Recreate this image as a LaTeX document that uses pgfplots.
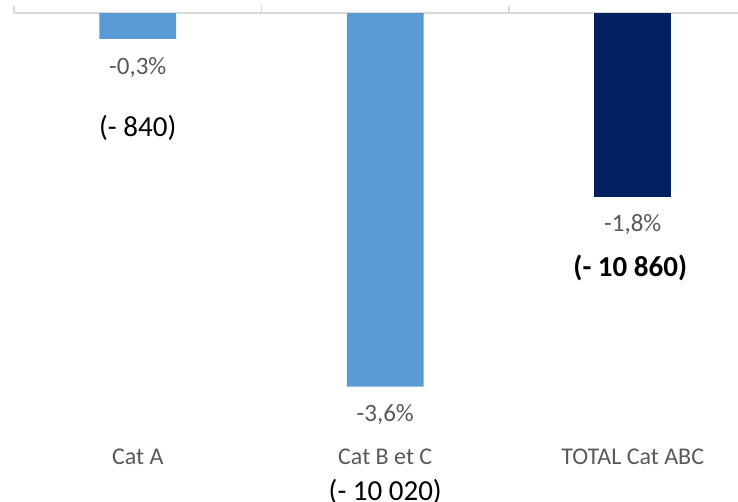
\documentclass[border=0pt]{standalone}
\usepackage{pgfplots}
\pgfplotsset{compat=1.18}
\usepackage{fontspec}
\setmainfont{Carlito}

\definecolor{lightblue}{HTML}{5B9BD5}
\definecolor{navy}{HTML}{002060}
\definecolor{labelgray}{HTML}{595959}
\definecolor{linegray}{HTML}{D9D9D9}

\newcommand{\pctfont}{\fontsize{25bp}{30bp}\selectfont\color{labelgray}}
\newcommand{\catfont}{\fontsize{24bp}{29bp}\selectfont\color{labelgray}}
\newcommand{\numfont}{\fontsize{29bp}{34bp}\selectfont\color{black}}

\begin{document}
\begin{tikzpicture}
  \path[use as bounding box] (0,-502bp) rectangle (738bp,0);
  \begin{axis}[
      at={(14bp,-13bp)}, anchor=north west,
      scale only axis,
      width=724bp, height=489bp,
      xmin=-0.5, xmax=2.4253,
      ymin=-4.711, ymax=0,
      axis x line*=top,
      axis y line=none,
      axis line style={draw=linegray, line width=2bp},
      xtick={-0.5,0.5,1.5},
      xticklabels={},
      major tick length=7bp,
      tick align=inside,
      tick style={draw=linegray, line width=1.2bp},
      ytick=\empty,
      ybar, bar shift=0pt, bar width=0.311,
      clip=false,
    ]
    \addplot[fill=lightblue, draw=none] coordinates {(0,-0.25) (1,-3.6)};
    \addplot[fill=navy, draw=none] coordinates {(2,-1.77)};

    % percentage labels
    \node[font=\pctfont] at (axis cs:0,-0.53) {-0,3\%};
    \node[font=\pctfont] at (axis cs:1,-3.873) {-3,6\%};
    \node[font=\pctfont] at (axis cs:2,-2.042) {-1,8\%};

    % absolute numbers
    \node[font=\numfont] at (axis cs:0,-1.108) {(- 840)};
    \node[font=\numfont] at (axis cs:1,-4.615) {(- 10 020)};
    \node[font=\numfont\bfseries] at (axis cs:1.99,-2.457) {(- 10 860)};

    % category names
    \node[font=\catfont] at (axis cs:0,-4.277) {Cat A};
    \node[font=\catfont] at (axis cs:1,-4.277) {Cat B et C};
    \node[font=\catfont] at (axis cs:2,-4.277) {TOTAL Cat ABC};
  \end{axis}
\end{tikzpicture}
\end{document}
